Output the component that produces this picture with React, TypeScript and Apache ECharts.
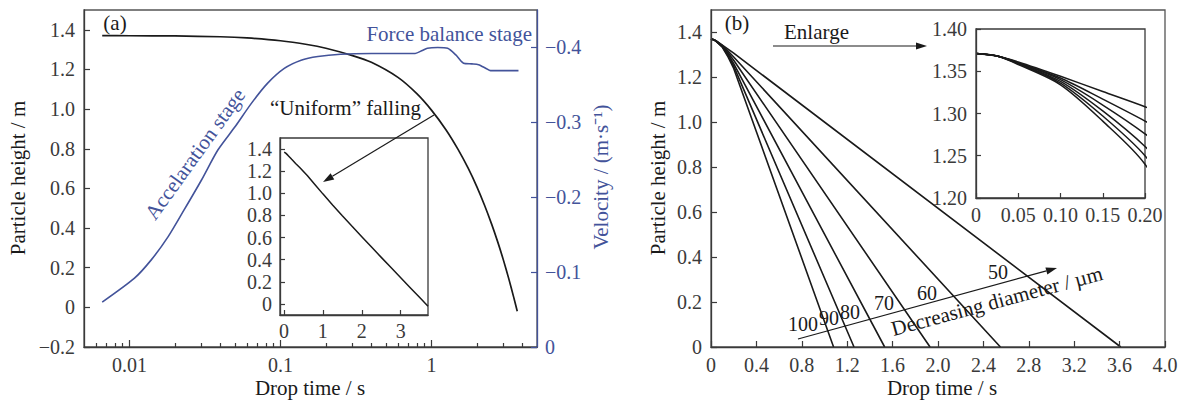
import React, { useEffect, useRef } from 'react';
import * as echarts from 'echarts';

const FONT = 'Liberation Serif, serif';
const AX = '#3a3a3a';
const BLUE = '#43539a';
const INK = '#1a1a1a';

// ---------- Panel (a): height vs time (log x) ----------
const A_TIME = [0.0066, 0.01, 0.02, 0.04, 0.06, 0.1, 0.15, 0.2, 0.3, 0.4, 0.6, 0.8, 1.0, 1.25, 1.5, 1.75, 2.0, 2.25, 2.5, 2.75, 3.0, 3.25, 3.5, 3.7];
const A_HEIGHT = [1.371, 1.370, 1.369, 1.365, 1.359, 1.345, 1.326, 1.307, 1.270, 1.236, 1.160, 1.078, 0.995, 0.895, 0.797, 0.702, 0.608, 0.514, 0.421, 0.329, 0.237, 0.145, 0.053, -0.020];

// velocity (m/s, negative = downward)
const A_VEL_TIME = [0.0066, 0.0108, 0.0139, 0.018, 0.023, 0.030, 0.0385, 0.050, 0.064, 0.082, 0.106, 0.137, 0.177, 0.25, 0.4, 0.78, 0.87, 0.94, 1.1, 1.28, 1.45, 1.63, 1.85, 2.05, 2.15, 2.3, 2.46, 3.0, 3.77];
const A_VELOCITY = [-0.060, -0.092, -0.116, -0.147, -0.183, -0.223, -0.263, -0.294, -0.325, -0.352, -0.372, -0.383, -0.388, -0.391, -0.392, -0.392, -0.396, -0.399, -0.400, -0.399, -0.390, -0.379, -0.378, -0.377, -0.375, -0.372, -0.369, -0.369, -0.369];

const A_X_LABEL_VALUES = [0.01, 0.1, 1];
const A_X_LABELS = ['0.01', '0.1', '1'];
const A_X_MINOR = [0.006, 0.007, 0.008, 0.009, 0.02, 0.03, 0.04, 0.05, 0.06, 0.07, 0.08, 0.09, 0.2, 0.3, 0.4, 0.5, 0.6, 0.7, 0.8, 0.9, 2, 3, 4];
const A_Y_TICKS = [-0.2, 0, 0.2, 0.4, 0.6, 0.8, 1.0, 1.2, 1.4];
const A_V_TICKS = [0, -0.1, -0.2, -0.3, -0.4];
const A_INSET_X_TICKS = [0, 1, 2, 3];
const A_INSET_Y_TICKS = [0, 0.2, 0.4, 0.6, 0.8, 1.0, 1.2, 1.4];

// ---------- Panel (b): height vs time for several diameters ----------
const B_DIAMETERS = ['100', '90', '80', '70', '60', '50'];
const B_TIME_EARLY = [0, 0.025, 0.05, 0.1, 0.15, 0.2];
const B_H_100 = [1.371, 1.368, 1.358, 1.334, 1.291, 1.240];
const B_H_90 = [1.371, 1.368, 1.359, 1.336, 1.297, 1.250];
const B_H_80 = [1.371, 1.368, 1.359, 1.338, 1.303, 1.261];
const B_H_70 = [1.371, 1.368, 1.360, 1.340, 1.310, 1.276];
const B_H_60 = [1.371, 1.368, 1.360, 1.342, 1.317, 1.291];
const B_H_50 = [1.371, 1.368, 1.361, 1.344, 1.326, 1.308];
const B_T_END = [1.08, 1.26, 1.53, 1.93, 2.55, 3.61];
const B_X_TICKS = [0, 0.4, 0.8, 1.2, 1.6, 2.0, 2.4, 2.8, 3.2, 3.6, 4.0];
const B_Y_TICKS = [0, 0.2, 0.4, 0.6, 0.8, 1.0, 1.2, 1.4];
const B_INSET_X_TICKS = [0, 0.05, 0.1, 0.15, 0.2];
const B_INSET_Y_TICKS = [1.2, 1.25, 1.3, 1.35, 1.4];

const fmt = (v: number, d: number) =>
  Math.abs(v) < 1e-9 ? '0' : (v < 0 ? '\u2212' : '') + Math.abs(v).toFixed(d);

const tickStyle = (color: string) => ({ color, width: 1.2 });

function valueAxis(o: any) {
  const color = o.color || AX;
  return {
    type: 'value',
    gridIndex: o.grid,
    min: o.min,
    max: o.max,
    position: o.position,
    inverse: !!o.inverse,
    z: 5,
    axisLine: { show: o.line !== false, onZero: false, lineStyle: { color, width: 1.3 } },
    axisTick: {
      show: true,
      inside: true,
      length: o.tickLen ?? 6,
      customValues: o.ticks,
      lineStyle: tickStyle(color),
    },
    axisLabel: {
      show: o.labels !== false,
      customValues: o.labelValues ?? o.ticks,
      formatter: o.formatter,
      fontFamily: FONT,
      fontSize: 20,
      color,
      margin: o.margin ?? 8,
    },
    splitLine: { show: false },
  };
}

function arrow(x1: number, y1: number, x2: number, y2: number, color = INK) {
  const len = 11;
  const half = 3.6;
  const dx = x2 - x1;
  const dy = y2 - y1;
  const d = Math.sqrt(dx * dx + dy * dy);
  const ux = dx / d;
  const uy = dy / d;
  const bx = x2 - ux * len;
  const by = y2 - uy * len;
  return [
    { type: 'line', silent: true, shape: { x1, y1, x2: bx, y2: by }, style: { stroke: color, lineWidth: 1.2 } },
    {
      type: 'polygon',
      silent: true,
      shape: { points: [[x2, y2], [bx - uy * half, by + ux * half], [bx + uy * half, by - ux * half]] },
      style: { fill: color },
    },
  ];
}

function label(text: string, x: number, y: number, o: any = {}) {
  return {
    type: 'text',
    silent: true,
    x,
    y,
    rotation: o.rotation || 0,
    style: {
      text,
      fill: o.color || INK,
      fontFamily: FONT,
      fontSize: o.size || 21,
      align: o.align || 'center',
      verticalAlign: 'middle',
    },
  };
}

export default function App() {
  const ref = useRef<HTMLDivElement>(null);

  useEffect(() => {
    if (!ref.current) return;
    const chart = echarts.init(ref.current, undefined, { renderer: 'svg' });

    const lg = (t: number) => Math.log10(t);
    const bHeights = [B_H_100, B_H_90, B_H_80, B_H_70, B_H_60, B_H_50];
    const bData = bHeights.map((hs, i) => [
      ...B_TIME_EARLY.map((t, j) => [t, hs[j]]),
      [B_T_END[i], 0],
    ]);

    const series: any[] = [
      {
        type: 'line', xAxisIndex: 0, yAxisIndex: 0, showSymbol: false, smooth: 0.25,
        lineStyle: { color: INK, width: 1.7 }, data: A_TIME.map((t, i) => [lg(t), A_HEIGHT[i]]), z: 3,
      },
      {
        type: 'line', xAxisIndex: 0, yAxisIndex: 1, showSymbol: false, smooth: 0.25,
        lineStyle: { color: BLUE, width: 1.6 }, data: A_VEL_TIME.map((t, i) => [lg(t), A_VELOCITY[i]]), z: 3,
      },
      {
        type: 'line', xAxisIndex: 2, yAxisIndex: 2, showSymbol: false, clip: true,
        lineStyle: { color: INK, width: 1.5 }, data: A_TIME.map((t, i) => [t, A_HEIGHT[i]]), z: 3,
      },
      ...bData.map((d) => ({
        type: 'line', xAxisIndex: 3, yAxisIndex: 3, showSymbol: false, smooth: false,
        lineStyle: { color: INK, width: 1.6 }, data: d, z: 3,
      })),
      ...bData.map((d) => ({
        type: 'line', xAxisIndex: 4, yAxisIndex: 4, showSymbol: false, smooth: 0.3, clip: true,
        lineStyle: { color: INK, width: 1.5 }, data: d, z: 3,
      })),
    ];

    const diamLabelPos = [
      [803, 324], [829, 318], [850, 312], [884, 303], [927, 293], [998, 272],
    ];

    const graphic: any[] = [
      label('Particle height / m', 17.5, 178, { rotation: Math.PI / 2 }),
      label('Velocity / (m·s\u207B\u00B9)', 601, 177, { rotation: Math.PI / 2, color: BLUE }),
      label('Drop time / s', 310, 388),
      label('Particle height / m', 657.5, 178, { rotation: Math.PI / 2 }),
      label('Drop time / s', 942, 388),
      label('(a)', 115, 23),
      label('(b)', 737, 23),
      label('Force balance stage', 532, 34, { align: 'right', color: BLUE }),
      label('Accelaration stage', 195, 154, { rotation: (54.3 * Math.PI) / 180, color: BLUE }),
      label('\u201CUniform\u201D falling', 345.5, 108),
      ...arrow(434, 115, 323, 182),
      label('Enlarge', 816.5, 32),
      ...arrow(773, 46, 927, 46),
      ...arrow(798, 339, 1057, 268),
      label('Decreasing diameter / µm', 997, 301, { rotation: (15 * Math.PI) / 180 }),
      ...B_DIAMETERS.map((d, i) => label(d, diamLabelPos[i][0], diamLabelPos[i][1], { size: 20 })),
    ];

    chart.setOption({
      animation: false,
      backgroundColor: '#ffffff',
      grid: [
        { left: 84, top: 10, width: 453, height: 337, show: true, borderColor: '#555', borderWidth: 1.3, backgroundColor: 'transparent' },
        { left: 280, top: 138, width: 148, height: 177, show: true, borderColor: AX, borderWidth: 1.3, backgroundColor: '#fff' },
        { left: 711, top: 10, width: 454, height: 337, show: true, borderColor: '#555', borderWidth: 1.3, backgroundColor: 'transparent' },
        { left: 976, top: 29, width: 169, height: 169, show: true, borderColor: AX, borderWidth: 1.3, backgroundColor: '#fff' },
      ],
      xAxis: [
        valueAxis({
          grid: 0, min: lg(0.005), max: lg(5), position: 'bottom', tickLen: 7,
          ticks: A_X_LABEL_VALUES.map(lg),
          formatter: (v: number) => {
            const i = A_X_LABEL_VALUES.findIndex((t) => Math.abs(lg(t) - v) < 1e-6);
            return i >= 0 ? A_X_LABELS[i] : '';
          },
          margin: 8,
        }),
        valueAxis({ grid: 0, min: lg(0.005), max: lg(5), position: 'bottom', tickLen: 4, line: false, labels: false, ticks: A_X_MINOR.map(lg) }),
        valueAxis({ grid: 1, min: -0.1, max: 3.7, position: 'bottom', tickLen: 5, ticks: A_INSET_X_TICKS, formatter: (v: number) => fmt(v, 0), margin: 6 }),
        valueAxis({ grid: 2, min: 0, max: 4, position: 'bottom', tickLen: 6, ticks: B_X_TICKS, formatter: (v: number) => fmt(v, 1), margin: 8 }),
        valueAxis({ grid: 3, min: 0, max: 0.2, position: 'bottom', tickLen: 5, ticks: B_INSET_X_TICKS, formatter: (v: number) => fmt(v, 2), margin: 7 }),
      ],
      yAxis: [
        valueAxis({ grid: 0, min: -0.2, max: 1.5, position: 'left', tickLen: 6, ticks: A_Y_TICKS, formatter: (v: number) => fmt(v, 1), margin: 9 }),
        valueAxis({ grid: 0, min: -0.45, max: 0, position: 'right', inverse: true, tickLen: 6, ticks: A_V_TICKS, formatter: (v: number) => fmt(v, 1), color: BLUE, margin: 8 }),
        valueAxis({ grid: 1, min: -0.1, max: 1.5, position: 'left', tickLen: 5, ticks: A_INSET_Y_TICKS, formatter: (v: number) => fmt(v, 1), margin: 8 }),
        valueAxis({ grid: 2, min: 0, max: 1.5, position: 'left', tickLen: 6, ticks: B_Y_TICKS, formatter: (v: number) => fmt(v, 1), margin: 9 }),
        valueAxis({ grid: 3, min: 1.2, max: 1.4, position: 'left', tickLen: 5, ticks: B_INSET_Y_TICKS, formatter: (v: number) => fmt(v, 2), margin: 9 }),
      ],
      series,
      graphic: { elements: graphic },
    });

    return () => chart.dispose();
  }, []);

  return (
    <div
      ref={ref}
      style={{ position: 'absolute', left: 0, top: 0, width: 1186, height: 401, background: '#fff' }}
    />
  );
}
